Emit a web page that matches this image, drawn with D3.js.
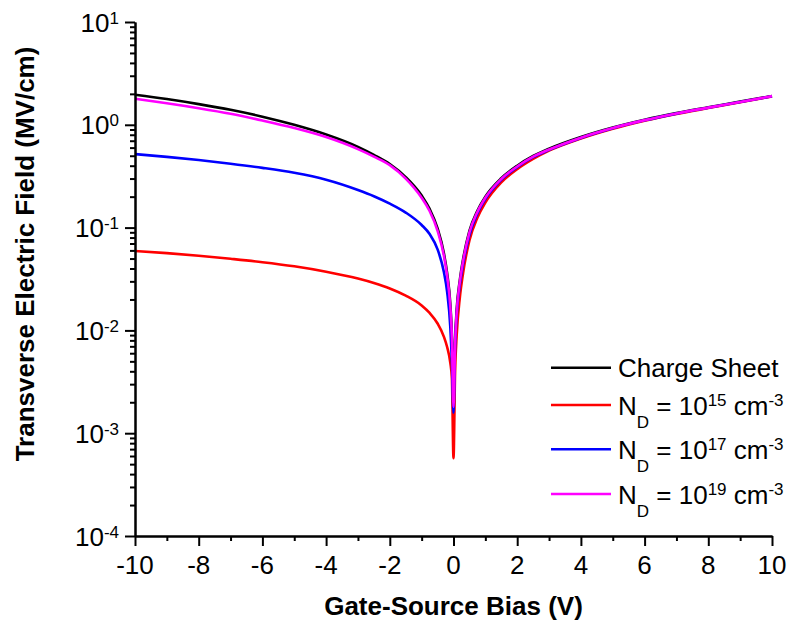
<!DOCTYPE html>
<html><head><meta charset="utf-8">
<script src="https://cdn.jsdelivr.net/npm/d3@7"></script>
<style>
body{margin:0;background:#fff}
text{font-family:"Liberation Sans",Arial,sans-serif;fill:#000}
</style>
</head><body>
<svg id="c" width="789" height="625"></svg>
<script>
// ---- data ----
const biasV = [-10,-9,-8,-7,-6,-5,-4,-3,-2.5,-2,-1.5,-1,-0.75,-0.5,-0.3,-0.2,-0.1,-0.05,0,
  0.05,0.1,0.2,0.3,0.5,0.75,1,1.5,2,2.5,3,4,5,6,7,8,9,10];
const chargeSheet = [1.96,1.78,1.59,1.40,1.20,1.00,0.805,0.61,0.51,0.415,0.31,0.205,0.152,0.098,0.056,0.036,0.018,0.009,0.002,
  0.008,0.016,0.031,0.049,0.093,0.146,0.2,0.302,0.4,0.497,0.585,0.76,0.94,1.12,1.30,1.48,1.68,1.91];
const nd15 = [0.0593,0.0564,0.0532,0.0497,0.0461,0.0420,0.0372,0.0319,0.0289,0.0256,0.0218,0.0175,0.0148,0.01167,0.00866,0.00689,0.00484,0.0034,0.00057,
  0.004,0.009,0.021,0.036,0.075,0.125,0.175,0.275,0.37,0.465,0.56,0.735,0.915,1.095,1.275,1.455,1.655,1.89];
const nd17 = [0.519,0.4875,0.454,0.418,0.381,0.341,0.292,0.232,0.202,0.171,0.140,0.106,0.0866,0.0615,0.0367,0.0237,0.01075,0.0049,0.00158,
  0.007,0.014,0.028,0.044,0.085,0.137,0.19,0.292,0.388,0.485,0.57,0.745,0.925,1.105,1.285,1.465,1.665,1.895];
const nd19 = [1.79,1.62,1.45,1.28,1.10,0.93,0.76,0.58,0.49,0.405,0.3,0.195,0.145,0.093,0.053,0.034,0.017,0.0085,0.0018,
  0.0075,0.015,0.03,0.047,0.09,0.142,0.195,0.297,0.393,0.49,0.575,0.75,0.93,1.11,1.29,1.47,1.67,1.90];
const seriesColors = ["#000000","#ff0000","#0000ff","#ff00ff"];
const seriesExp = [null,"15","17","19"];
const xMajorTicks = [-10,-8,-6,-4,-2,0,2,4,6,8,10];
const xMinorTicks = [-9,-7,-5,-3,-1,1,3,5,7,9];
const yExponents = [-4,-3,-2,-1,0,1];
const xTitle = "Gate-Source Bias (V)";
const yTitle = "Transverse Electric Field (MV/cm)";

// ---- chart ----
const svg = d3.select("#c");
const L = 135, R = 772, T = 22, B = 536;
const x = d3.scaleLinear().domain([-10,10]).range([L,R]);
const y = d3.scaleLog().domain([1e-4,1e1]).range([B,T]);

const series = [chargeSheet, nd15, nd17, nd19];
const line = d3.line().x(d=>x(d[0])).y(d=>y(d[1])).curve(d3.curveMonotoneX);
series.forEach((s,i)=>{
  svg.append("path").datum(biasV.map((v,j)=>[v,s[j]]))
    .attr("d",line).attr("fill","none").attr("stroke",seriesColors[i])
    .attr("stroke-width",2.6).attr("stroke-linejoin","round");
});

// axes
const yMinor = [];
yExponents.slice(0,-1).forEach(e=>{ for(let k=2;k<=9;k++) yMinor.push(k*Math.pow(10,e)); });
const yMajor = yExponents.map(e=>Math.pow(10,e));

function styleAxis(g){ g.select(".domain").attr("stroke","#000").attr("stroke-width",2);
  g.selectAll(".tick line").attr("stroke","#000").attr("stroke-width",2); g.selectAll(".tick text").remove(); }

svg.append("g").attr("transform",`translate(0,${B})`)
  .call(d3.axisBottom(x).tickValues(xMinorTicks).tickSize(5).tickSizeOuter(0)).call(styleAxis);
svg.append("g").attr("transform",`translate(0,${B})`)
  .call(d3.axisBottom(x).tickValues(xMajorTicks).tickSize(10).tickSizeOuter(0)).call(styleAxis);
svg.append("g").attr("transform",`translate(${L},0)`)
  .call(d3.axisLeft(y).tickValues(yMinor).tickSize(5).tickSizeOuter(0)).call(styleAxis);
svg.append("g").attr("transform",`translate(${L},0)`)
  .call(d3.axisLeft(y).tickValues(yMajor).tickSize(10).tickSizeOuter(0)).call(styleAxis);

// x tick labels
svg.append("g").selectAll("text").data(xMajorTicks).join("text")
  .attr("x",d=>x(d)).attr("y",B+38).attr("text-anchor","middle")
  .attr("font-size",26).text(d=>d);

// y tick labels
const yl = svg.append("g").selectAll("text").data(yExponents).join("text")
  .attr("x",119).attr("y",e=>y(Math.pow(10,e))+9.5).attr("text-anchor","end").attr("font-size",26);
yl.append("tspan").text("10");
yl.append("tspan").attr("font-size",17).attr("dy",-8).text(e=>e);

// titles
svg.append("text").attr("x",453.5).attr("y",615).attr("text-anchor","middle")
  .attr("font-size",26).attr("font-weight","bold").text(xTitle);
svg.append("text").attr("transform","translate(34,254) rotate(-90)").attr("text-anchor","middle")
  .attr("font-size",26).attr("font-weight","bold").text(yTitle);

// legend
const legendY = [367.7,405,449.3,494];
series.forEach((s,i)=>{
  const ly = legendY[i];
  svg.append("line").attr("x1",551).attr("x2",611).attr("y1",ly).attr("y2",ly)
    .attr("stroke",seriesColors[i]).attr("stroke-width",2.6);
  const t = svg.append("text").attr("x",618).attr("y",ly+9.5).attr("font-size",26);
  if(seriesExp[i]===null){ t.text("Charge Sheet"); return; }
  t.append("tspan").text("N");
  t.append("tspan").attr("font-size",17).attr("dy",13).text("D");
  t.append("tspan").attr("dy",-13).text(" = 10");
  t.append("tspan").attr("font-size",17).attr("dy",-9).text(seriesExp[i]);
  t.append("tspan").attr("dy",9).text(" cm");
  t.append("tspan").attr("font-size",17).attr("dy",-9).text("-3");
});
</script>
</body></html>
